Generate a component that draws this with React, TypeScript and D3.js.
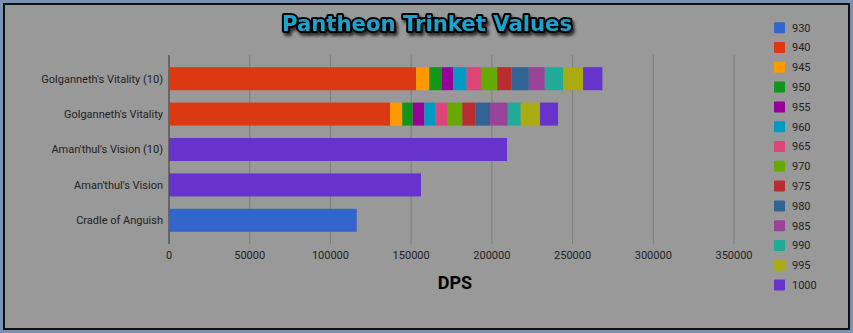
import React from "react";
import * as d3 from "d3";

const categories = [
  "Golganneth's Vitality (10)",
  "Golganneth's Vitality",
  "Aman'thul's Vision (10)",
  "Aman'thul's Vision",
  "Cradle of Anguish",
];
const seriesNames = ["930", "940", "945", "950", "955", "960", "965", "970", "975", "980", "985", "990", "995", "1000"];
const seriesColors = ["#3366cc", "#dc3912", "#ff9900", "#109618", "#990099", "#0099c6", "#dd4477", "#66aa00", "#b82e2e", "#316395", "#994499", "#22aa99", "#aaaa11", "#6633cc"];

// values per series, in category order
const s930 = [0, 0, 0, 0, 116300];
const s940 = [153000, 136900, 0, 0, 0];
const s945 = [8240, 7620, 0, 0, 0];
const s950 = [7620, 6440, 0, 0, 0];
const s955 = [7250, 7190, 0, 0, 0];
const s960 = [8240, 6820, 0, 0, 0];
const s965 = [8860, 7680, 0, 0, 0];
const s970 = [10100, 9050, 0, 0, 0];
const s975 = [8860, 8300, 0, 0, 0];
const s980 = [10720, 8860, 0, 0, 0];
const s985 = [9910, 10970, 0, 0, 0];
const s990 = [11340, 8050, 0, 0, 0];
const s995 = [12390, 11960, 0, 0, 0];
const s1000 = [11960, 11150, 209400, 156100, 0];
const seriesValues = [s930, s940, s945, s950, s955, s960, s965, s970, s975, s980, s985, s990, s995, s1000];
const xTicks = [0, 50000, 100000, 150000, 200000, 250000, 300000, 350000];

export default function App() {
  const W = 853, H = 333;
  const x = d3.scaleLinear().domain([0, 350000]).range([169, 734]);
  const y = d3.scaleBand().domain(categories).range([61, 238]).paddingInner(0.35).paddingOuter(0.175);

  const rows = categories.map((c, i) => {
    const o: any = { cat: c };
    seriesNames.forEach((s, j) => (o[s] = seriesValues[j][i]));
    return o;
  });
  const stacked = d3.stack().keys(seriesNames)(rows);

  const font = "Roboto, 'Noto Sans', Arial, sans-serif";

  return (
    <svg width={W} height={H} style={{ position: "absolute", left: 0, top: 0, display: "block" }}>
      <defs>
        <filter id="sh" x="-10%" y="-30%" width="130%" height="180%">
          <feDropShadow dx="2" dy="3" stdDeviation="1.5" floodColor="#000" floodOpacity="0.7" />
        </filter>
      </defs>
      <rect x={0} y={0} width={W} height={H} fill="#7b92b5" />
      <rect x={3} y={3} width={W - 6} height={H - 6} fill="#111" />
      <rect x={5} y={5} width={W - 10} height={H - 10} fill="#999999" />

      {/* grid */}
      {xTicks.map((t) => (
        <line key={t} x1={x(t)} x2={x(t)} y1={55} y2={244} stroke={t === 0 ? "#333" : "#7d7d7d"} strokeWidth={1} />
      ))}

      {/* bars */}
      {stacked.map((layer, j) =>
        layer.map((d, i) => {
          const w = x(d[1]) - x(d[0]);
          if (w <= 0) return null;
          return (
            <rect
              key={seriesNames[j] + i}
              x={x(d[0])}
              y={y(categories[i])}
              width={w}
              height={y.bandwidth()}
              fill={seriesColors[j]}
            />
          );
        })
      )}

      {/* category labels */}
      {categories.map((c) => (
        <text key={c} x={163} y={y(c)! + y.bandwidth() / 2} dy="0.35em" textAnchor="end" fontFamily={font} fontSize={11} fill="#222">
          {c}
        </text>
      ))}

      {/* x tick labels */}
      {xTicks.map((t) => (
        <text key={t} x={x(t)} y={255} dy="0.35em" textAnchor="middle" fontFamily={font} fontSize={11} fill="#222">
          {t}
        </text>
      ))}

      <text x={455} y={283} dy="0.35em" textAnchor="middle" fontFamily={font} fontWeight="bold" fontSize={18} fill="#000">
        DPS
      </text>

      {/* legend */}
      {seriesNames.map((s, j) => (
        <g key={s} transform={`translate(774, ${27.7 + j * 19.8})`}>
          <rect x={0} y={-5.5} width={11} height={11} fill={seriesColors[j]} rx={1} />
          <text x={18} y={0} dy="0.35em" fontFamily={font} fontSize={11} fill="#222">
            {s}
          </text>
        </g>
      ))}

      {/* title */}
      <text
        x={427}
        y={31}
        textAnchor="middle"
        fontFamily="'DejaVu Sans', sans-serif"
        fontWeight="bold"
        fontSize={21}
        textLength={290}
        lengthAdjust="spacingAndGlyphs"
        fill="#1ea2cc"
        stroke="#000"
        strokeWidth={4}
        strokeLinejoin="round"
        paintOrder="stroke"
        filter="url(#sh)"
      >
        Pantheon Trinket Values
      </text>
    </svg>
  );
}
